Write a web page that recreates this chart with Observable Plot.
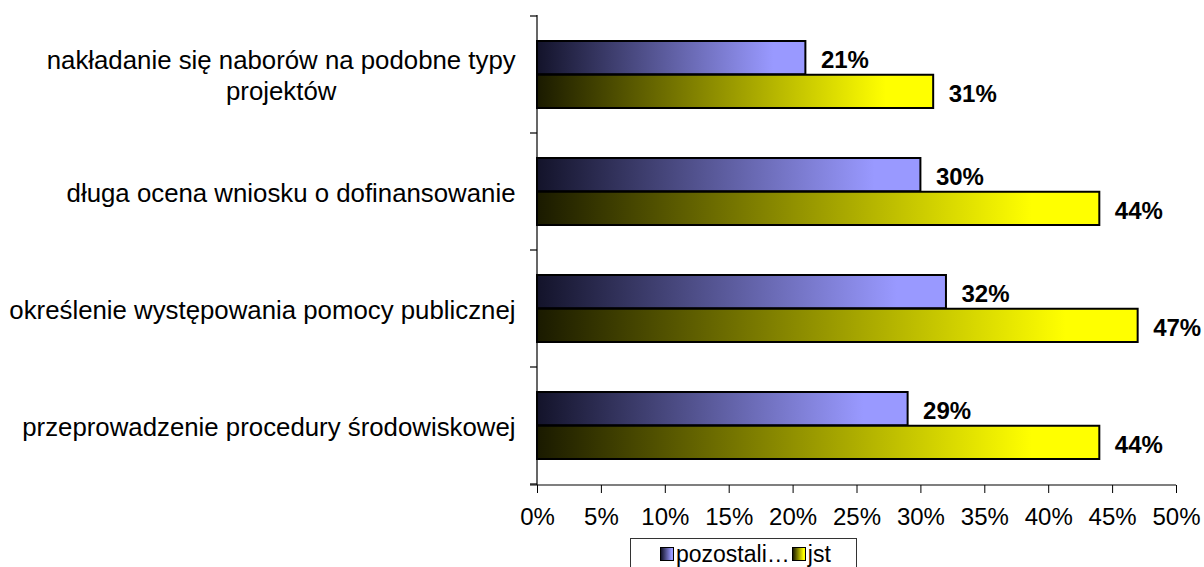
<!DOCTYPE html>
<html>
<head>
<meta charset="utf-8">
<script src="https://cdn.jsdelivr.net/npm/d3@7"></script>
<script src="https://cdn.jsdelivr.net/npm/@observablehq/plot@0.6"></script>
<style>
  html, body { margin: 0; padding: 0; background: #fff; }
  body { width: 1204px; height: 567px; overflow: hidden; position: relative; font-family: "Liberation Sans", Arial, sans-serif; }
  #legend { position: absolute; left: 630px; top: 538px; width: 227px; height: 40px; border: 1px solid #333; box-sizing: border-box;
            display: flex; align-items: center; justify-content: flex-start; padding-left: 27px; padding-bottom: 8px; font-size: 23px; color: #000; }
  #legend .sw { width: 12px; height: 12px; border: 1.5px solid #000; display: inline-block; margin-right: 2px; margin-left: 2px; }
  #legend .item { display: flex; align-items: center; }
</style>
</head>
<body>
<div id="chart"></div>
<div id="legend"></div>
<script>
const categories = [
  "nakładanie się naborów na podobne typy\nprojektów",
  "długa ocena wniosku o dofinansowanie",
  "określenie występowania pomocy publicznej",
  "przeprowadzenie procedury środowiskowej"
];
const seriesNames = ["pozostali…", "jst"];
const pozostali = [21, 30, 32, 29];
const jst = [31, 44, 47, 44];
const xTicks = [0, 5, 10, 15, 20, 25, 30, 35, 40, 45, 50];

const blueData = categories.map((c, i) => ({category: c, series: seriesNames[0], value: pozostali[i]}));
const yellowData = categories.map((c, i) => ({category: c, series: seriesNames[1], value: jst[i]}));

const W = 1204, H = 530;
const mL = 537, mR = 28, mT = 15, mB = 45;

const defsMark = () => {
  const g = d3.create("svg:g");
  const defs = g.append("defs");
  const mk = (id, c0, c1) => {
    const lg = defs.append("linearGradient").attr("id", id).attr("x1", "0").attr("x2", "1").attr("y1", "0").attr("y2", "0");
    lg.append("stop").attr("offset", "0").attr("stop-color", c0);
    lg.append("stop").attr("offset", "0.88").attr("stop-color", c1);
    lg.append("stop").attr("offset", "1").attr("stop-color", c1);
  };
  mk("gBlue", "#13132a", "#9999ff");
  mk("gYellow", "#1a1a00", "#ffff00");
  return g.node();
};

const axisLines = (index, scales, values, dims) => {
  const g = d3.create("svg:g").attr("stroke", "#000").attr("stroke-width", 1.2);
  const y = scales.y;
  const x = scales.x;
  const left = x(0), right = x(50);
  const top = dims.marginTop, bottom = dims.height - dims.marginBottom;
  g.append("line").attr("x1", left).attr("x2", left).attr("y1", top).attr("y2", bottom);
  g.append("line").attr("x1", left - 7).attr("x2", right).attr("y1", bottom).attr("y2", bottom);
  const bounds = categories.map(c => y(c)).concat([y(categories[categories.length - 1]) + y.bandwidth()]);
  for (const b of bounds) g.append("line").attr("x1", left - 7).attr("x2", left).attr("y1", b).attr("y2", b);
  return g.node();
};

const plot = Plot.plot({
  width: W, height: H,
  marginLeft: mL, marginRight: mR, marginTop: mT, marginBottom: mB,
  style: {fontFamily: "'Liberation Sans', Arial, sans-serif", color: "#000", background: "#fff"},
  x: {domain: [0, 50], ticks: xTicks},
  y: {domain: categories, padding: 0},
  marks: [
    defsMark,
    Plot.barX(blueData, {x: "value", y: "category", fill: "url(#gBlue)", stroke: "#000", strokeWidth: 2, insetTop: 25, insetBottom: 58.75}),
    Plot.barX(yellowData, {x: "value", y: "category", fill: "url(#gYellow)", stroke: "#000", strokeWidth: 2, insetTop: 58.75, insetBottom: 25}),
    Plot.text(blueData, {x: "value", y: "category", text: d => d.value + "%", dx: 15, dy: -15, textAnchor: "start", fontWeight: "bold", fontSize: 24, fill: "#000"}),
    Plot.text(yellowData, {x: "value", y: "category", text: d => d.value + "%", dx: 15, dy: 19, textAnchor: "start", fontWeight: "bold", fontSize: 24, fill: "#000"}),
    Plot.axisX({ticks: xTicks, tickFormat: d => d + "%", tickSize: 8, tickPadding: 14, fontSize: 24, label: null, stroke: "#000"}),
    Plot.axisY({tickSize: 0, tickPadding: 22, fontSize: 25.8, label: null, lineHeight: 1.2}),
    axisLines
  ]
});
document.getElementById("chart").appendChild(plot);

plot.querySelectorAll("text").forEach(t => {
  const spans = t.querySelectorAll("tspan");
  if (spans.length > 1) {
    const bb = t.getBBox();
    const cx = bb.x + bb.width / 2;
    t.setAttribute("text-anchor", "middle");
    spans.forEach(s => s.setAttribute("x", cx));
  }
});

const legend = document.getElementById("legend");
const grads = ["linear-gradient(to right, #13132a, #9999ff 88%)", "linear-gradient(to right, #1a1a00, #ffff00 88%)"];
seriesNames.forEach((name, i) => {
  const item = document.createElement("span");
  item.className = "item";
  const sw = document.createElement("span");
  sw.className = "sw";
  sw.style.background = grads[i];
  item.appendChild(sw);
  const lab = document.createElement("span");
  lab.textContent = name;
  item.appendChild(lab);
  legend.appendChild(item);
});
</script>
</body>
</html>
